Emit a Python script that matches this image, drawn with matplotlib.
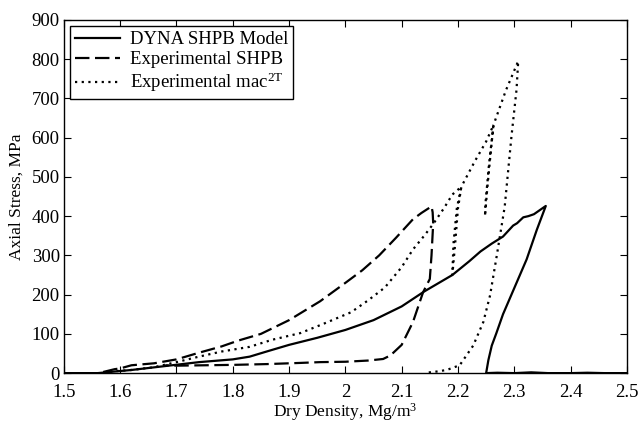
import matplotlib
matplotlib.use('Agg')
import matplotlib.pyplot as plt

plt.rcParams['font.family'] = ['Liberation Serif', 'DejaVu Serif']
plt.rcParams['mathtext.fontset'] = 'custom'
plt.rcParams['mathtext.rm'] = 'Liberation Serif'
plt.rcParams['mathtext.it'] = 'Liberation Serif:italic'

# DYNA SHPB model (solid)
dyna_x = [1.50, 1.56, 1.62, 1.68, 1.74, 1.80, 1.83, 1.86, 1.90, 1.95, 2.00, 2.05,
          2.10, 2.14, 2.19, 2.22, 2.24, 2.26, 2.28, 2.298, 2.305, 2.316, 2.325,
          2.335, 2.345, 2.356,
          2.34, 2.322, 2.307, 2.295, 2.28, 2.268, 2.26, 2.254, 2.251, 2.25,
          2.27, 2.30, 2.33, 2.36, 2.40, 2.43, 2.46, 2.50]
dyna_y = [0, 0, 8, 18, 28, 35, 42, 55, 72, 90, 110, 135,
          170, 208, 250, 285, 310, 330, 348, 376, 382, 397, 400,
          405, 415, 426,
          365, 290, 240, 200, 150, 101, 70, 33, 8, 0,
          1, 0, 2, 0, 0, 1, 0, 0]

# Experimental SHPB (dashed)
shpb_x = [1.57, 1.59, 1.60, 1.62, 1.66, 1.70, 1.74, 1.78, 1.81, 1.85, 1.90, 1.955,
          2.00, 2.03, 2.06, 2.09, 2.12, 2.135, 2.15, 2.153, 2.155, 2.156, 2.153,
          2.150, 2.138, 2.12, 2.10, 2.08, 2.067, 2.04, 2.0, 1.955, 1.92, 1.86,
          1.80, 1.75, 1.70, 1.68]
shpb_y = [3, 10, 12, 20, 25, 35, 52, 68, 83, 100, 135, 183,
          230, 262, 300, 345, 392, 408, 422, 425, 410, 382, 300,
          240, 206, 130, 72, 45, 36, 32, 29, 28, 26, 23,
          21, 20, 19, 20]

# Experimental mac2T (dotted)
mac_x = [1.57, 1.60, 1.62, 1.66, 1.70, 1.74, 1.78, 1.83, 1.87, 1.92, 1.96, 2.01,
         2.04, 2.07, 2.10, 2.12, 2.14, 2.156, 2.175, 2.19, 2.206, 2.198, 2.192,
         2.19, 2.195, 2.20, 2.206, 2.23, 2.25, 2.263, 2.255, 2.249, 2.248, 2.252,
         2.258, 2.263, 2.285, 2.307, 2.304, 2.295, 2.283, 2.269, 2.257, 2.245,
         2.227, 2.203, 2.18, 2.162, 2.144]
mac_y = [2, 6, 8, 15, 28, 42, 55, 67, 85, 102, 125, 155,
         185, 218, 270, 315, 350, 380, 420, 455, 475, 420, 330,
         250, 330, 420, 475, 540, 590, 632, 530, 435, 400, 470,
         560, 632, 720, 795, 722, 603, 424, 300, 198, 130,
         70, 20, 8, 4, 1]

x_ticks = [1.5, 1.6, 1.7, 1.8, 1.9, 2.0, 2.1, 2.2, 2.3, 2.4, 2.5]
x_labels = ['1.5', '1.6', '1.7', '1.8', '1.9', '2', '2.1', '2.2', '2.3', '2.4', '2.5']
y_ticks = [0, 100, 200, 300, 400, 500, 600, 700, 800, 900]

fig = plt.figure(figsize=(6.39, 4.24), dpi=100)
ax = fig.add_axes([0.100, 0.120, 0.881, 0.833])

ax.plot(dyna_x, dyna_y, color='black', lw=1.6, label='DYNA SHPB Model')
ax.plot(shpb_x, shpb_y, color='black', lw=1.6, dashes=(6.5, 2.5),
        label='Experimental SHPB')
ax.plot(mac_x, mac_y, color='black', lw=1.6, dashes=(1, 2),
        label='Experimental mac$^\\mathrm{2T}$')

ax.set_xlim(1.5, 2.5)
ax.set_ylim(0, 900)
ax.set_xticks(x_ticks)
ax.set_xticklabels(x_labels)
ax.set_yticks(y_ticks)
ax.tick_params(direction='in', top=True, right=True, labelsize=13.5, length=5)
ax.tick_params(axis='x', pad=8)
ax.tick_params(axis='y', pad=3)
for s in ax.spines.values():
    s.set_linewidth(1.0)

ax.set_xlabel('Dry Density, Mg/m$^\\mathrm{3}$', fontsize=12.5, labelpad=0)
ax.set_ylabel('Axial Stress, MPa', fontsize=12.5, labelpad=5)

leg = ax.legend(loc='upper left', fontsize=13.5, handlelength=2.4,
                fancybox=False, framealpha=1, edgecolor='black',
                borderaxespad=0.35, labelspacing=0.15, borderpad=0.25,
                handletextpad=0.5)
leg.get_frame().set_linewidth(1.0)

fig.savefig('out.png', dpi=100)
